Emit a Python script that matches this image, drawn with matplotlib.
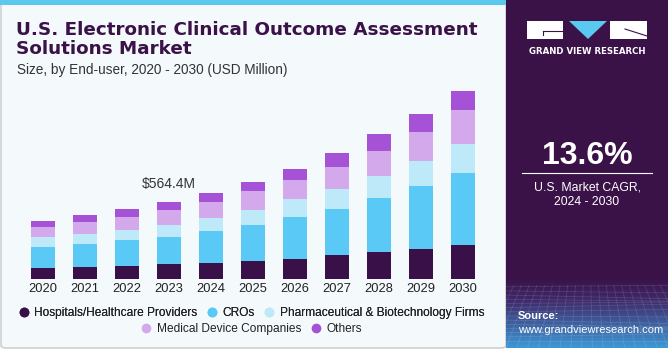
import numpy as np
import matplotlib
matplotlib.use("Agg")
import matplotlib.pyplot as plt
from matplotlib.patches import Rectangle, FancyBboxPatch, Polygon
from matplotlib.lines import Line2D

years = ["2020", "2021", "2022", "2023", "2024", "2025", "2026", "2027", "2028", "2029", "2030"]
segments = ["Hospitals/Healthcare Providers", "CROs", "Pharmaceutical & Biotechnology Firms",
            "Medical Device Companies", "Others"]
hospitals = [77.9, 87.6, 97.3, 107.0, 116.8, 129.0, 146.0, 175.2, 194.6, 219.0, 250.6]
cros = [155.7, 167.9, 184.9, 201.9, 233.6, 265.2, 306.6, 335.8, 394.1, 457.4, 520.7]
pharma = [70.6, 73.0, 75.4, 87.6, 94.9, 111.9, 129.0, 146.0, 160.6, 184.9, 214.1]
meddevice = [73.0, 87.6, 97.3, 107.0, 116.8, 133.8, 143.5, 163.0, 187.3, 214.1, 250.6]
others = [48.7, 48.7, 53.5, 60.9, 68.1, 65.7, 80.3, 102.2, 119.2, 126.5, 138.7]
annot_year = "2023"
annot_text = "$564.4M"
cagr_text = "13.6%"
cagr_label = "U.S. Market CAGR,\n2024 - 2030"

colors = ["#3A1049", "#5BC9F5", "#BDE9F9", "#D4A9EB", "#A652D7"]
BG = "#F4F9FC"
PANEL = "#3A1248"
TITLE_C = "#3A1248"

W, H = 670, 350
fig = plt.figure(figsize=(W / 100, H / 100), dpi=100)
fig.patch.set_facecolor("white")

def fx(px):
    return px / W

def fy(py):
    return 1 - py / H

# background card
bg = FancyBboxPatch((fx(1), fy(348)), fx(505), fy(1) - fy(348),
                    boxstyle="round,pad=0,rounding_size=0.008",
                    transform=fig.transFigure, facecolor=BG, edgecolor="#CFCFCF",
                    linewidth=1.2, zorder=-2)
fig.patches.append(bg)
fig.patches.append(Rectangle((fx(0), fy(5)), fx(506), 5 / H, transform=fig.transFigure,
                             facecolor="#5BC8F0", edgecolor="none", zorder=-1))

# right panel
pax = fig.add_axes([fx(506), fy(348), fx(162), 348 / H])
pax.set_zorder(-1)
pax.set_axis_off()
grad_h = 348
img = np.zeros((grad_h, 2, 3))
top = np.array([0x3A, 0x12, 0x48]) / 255
mid = np.array([0x3E, 0x2A, 0x6A]) / 255
bot = np.array([0x3F, 0x9A, 0xD8]) / 255
for i in range(grad_h):
    if i < 278:
        c = top
    elif i < 300:
        t = (i - 278) / 22
        c = top * (1 - t) + mid * t
    else:
        t = (i - 300) / 48
        c = mid * (1 - t) + bot * t
    img[i, :, :] = c
pax.imshow(img, aspect="auto", extent=[0, 1, 0, 1], origin="upper")
for k in range(14):
    yy = 0.02 + k * 0.012
    pax.plot([0, 1], [yy, yy + 0.01 * np.sin(k)], color="white", alpha=0.12, lw=0.6)
for k in range(22):
    xx = k / 21
    pax.plot([xx, 0.5 + (xx - 0.5) * 1.4], [0.18, 0.0], color="white", alpha=0.12, lw=0.6)
pax.set_xlim(0, 1)
pax.set_ylim(0, 1)

# logo
fig.patches.append(Rectangle((fx(527), fy(39)), fx(36), 18 / H, transform=fig.transFigure,
                             facecolor="white", edgecolor="none"))
fig.patches.append(Rectangle((fx(610), fy(39)), fx(37), 18 / H, transform=fig.transFigure,
                             facecolor="white", edgecolor="none"))
fig.patches.append(Polygon([(fx(569), fy(21)), (fx(607), fy(21)), (fx(588), fy(39))],
                           closed=True, transform=fig.transFigure,
                           facecolor="#5BC8F0", edgecolor="none"))
fig.lines.append(Line2D([fx(543), fx(563)], [fy(31), fy(31)], transform=fig.transFigure,
                        color=PANEL, lw=0.8))
fig.lines.append(Line2D([fx(543), fx(543)], [fy(31), fy(35)], transform=fig.transFigure,
                        color=PANEL, lw=0.8))
fig.lines.append(Line2D([fx(625), fx(647)], [fy(29), fy(36)], transform=fig.transFigure,
                        color=PANEL, lw=0.8))
fig.text(fx(587), fy(51), "GRAND VIEW RESEARCH", color="white", fontsize=6.2,
         fontweight="bold", ha="center", va="center", family="DejaVu Sans")

fig.text(fx(587), fy(156), cagr_text, color="white", fontsize=23, fontweight="bold",
         ha="center", va="center", family="Liberation Sans")
fig.lines.append(Line2D([fx(522), fx(652)], [fy(173), fy(173)], transform=fig.transFigure,
                        color="white", lw=0.8))
fig.text(fx(587), fy(195), cagr_label, color="white", fontsize=8.8, ha="center",
         va="center", family="Liberation Sans", linespacing=1.25)
fig.text(fx(518), fy(316), "Source:", color="white", fontsize=8, fontweight="bold",
         ha="left", va="center", family="Liberation Sans")
fig.text(fx(518), fy(330), "www.grandviewresearch.com", color="white", fontsize=8,
         ha="left", va="center", family="Liberation Sans")

# titles
fig.text(fx(16), fy(21), "U.S. Electronic Clinical Outcome Assessment\nSolutions Market",
         color=TITLE_C, fontsize=13.2, fontweight="heavy", ha="left", va="top",
         family="DejaVu Sans", linespacing=1.07)
fig.text(fx(17), fy(70), "Size, by End-user, 2020 - 2030 (USD Million)", color="#333333",
         fontsize=9.8, ha="left", va="center", family="Liberation Sans")

# bars
ax = fig.add_axes([fx(17.8), fy(279), fx(470.4), 205.5 / H])
ax.set_zorder(2)
ax.set_facecolor("none")
x = np.arange(len(years))
bottom = np.zeros(len(years))
for vals, col, lab in zip([hospitals, cros, pharma, meddevice, others], colors, segments):
    ax.bar(x, vals, width=0.57, bottom=bottom, color=col, edgecolor="none", label=lab, zorder=2)
    bottom = bottom + np.array(vals)
ax.set_xlim(-0.6, len(years) - 0.4)
ax.set_ylim(0, 1500)
ax.set_xticks(x)
ax.set_xticklabels(years, fontsize=9.3, color="#222222", family="Liberation Sans")
ax.tick_params(axis="x", length=0, pad=3)
ax.set_yticks([])
for s in ax.spines.values():
    s.set_visible(False)
ai = years.index(annot_year)
ax.annotate(annot_text, (x[ai], bottom[ai]), xytext=(0, 13), textcoords="offset points",
            ha="center", va="center", fontsize=10, color="#333333", family="Liberation Sans")

# legend
handles = [Line2D([0], [0], marker="o", linestyle="none", markersize=7,
                  markerfacecolor=c, markeredgecolor="none") for c in colors]
leg1 = fig.legend(handles[:3], segments[:3], loc="center", bbox_to_anchor=(fx(251), fy(313)),
                  ncol=3, frameon=False, handlelength=1.0, handletextpad=0.4,
                  columnspacing=0.7, borderpad=0, prop={"family": "Liberation Sans", "size": 8.6})
leg2 = fig.legend(handles[3:], segments[3:], loc="center", bbox_to_anchor=(fx(251), fy(329)),
                  ncol=2, frameon=False, handlelength=1.0, handletextpad=0.4,
                  columnspacing=0.7, borderpad=0, prop={"family": "Liberation Sans", "size": 8.6})
for lg in (leg1, leg2):
    for t in lg.get_texts():
        t.set_color("#222222")
fig.add_artist(leg1)

fig.savefig("out.png", dpi=100, facecolor=fig.get_facecolor())
